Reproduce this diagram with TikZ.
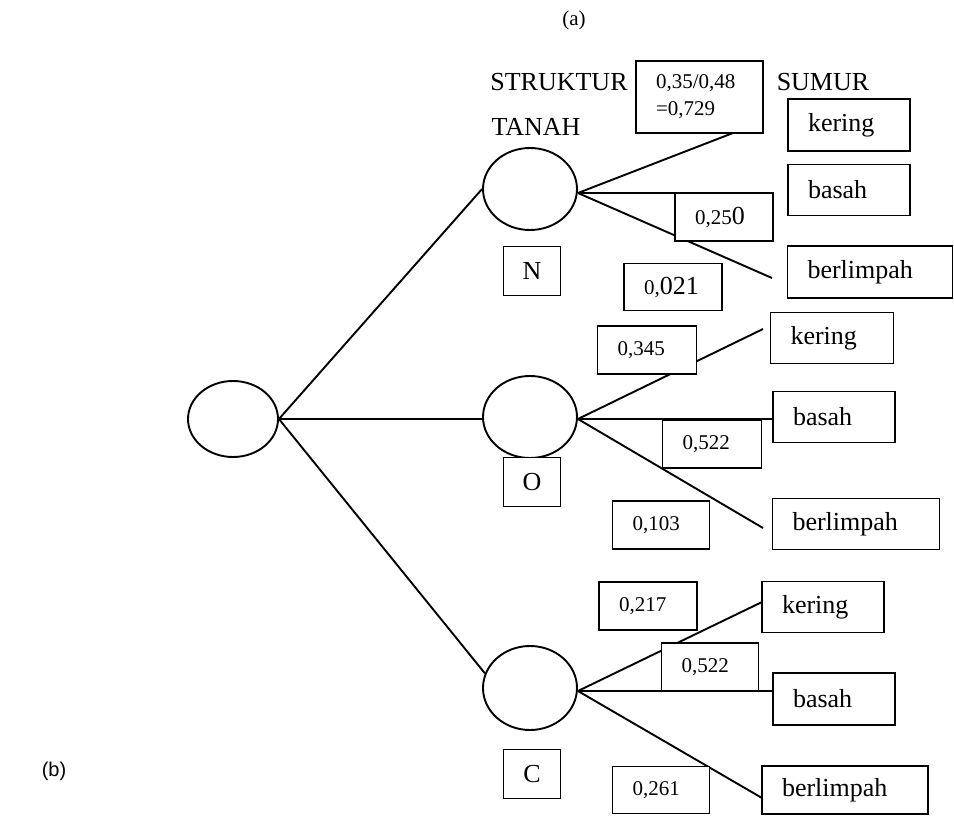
\documentclass[tikz,border=0pt]{standalone}
\usepackage{fontspec}
\setmainfont{Liberation Serif}
\setsansfont{Liberation Sans}
\usetikzlibrary{shapes.geometric}
\begin{document}
\begin{tikzpicture}[x=1pt, y=-1pt, line width=1.9pt,
  chance/.style={draw, ellipse, inner sep=0pt},
  esz/.style 2 args={minimum width=#1pt, minimum height=#2pt},
  % box of given width and height, text set flush left with a fixed indent
  bx/.style n args={3}{minimum width=#1pt, minimum height=#2pt, text width=#3pt, align=left},
  lbox/.style={draw, fill=white, rectangle, inner sep=0pt, font=\fontsize{26}{30}\selectfont},
  pbox/.style={draw, fill=white, rectangle, inner sep=0pt, font=\fontsize{21}{27}\selectfont},
  head/.style={inner sep=0pt, font=\fontsize{26}{30}\selectfont}]

\useasboundingbox (0,0) rectangle (954,816);

% titles
\node[inner sep=0pt, font=\fontsize{21}{25}\selectfont] (ta) at (574,20) {(a)};
\node[inner sep=0pt, font=\sffamily\fontsize{20}{24}\selectfont] (tb) at (54,771) {(b)};
\node[head] (hs) at (559,82) {STRUKTUR};
\node[head] (ht) at (536,127) {TANAH};
\node[head] (hw) at (823,82) {SUMUR};

% chance nodes
\node[chance, esz={90}{76}] (R) at (233,419) {};
\node[chance, esz={94}{82}] (N) at (530,189) {};
\node[chance, esz={94}{82}] (O) at (530,417) {};
\node[chance, esz={94}{84}] (C) at (530,688) {};

% branch origins on the right of each chance node
\coordinate (oN) at ([yshift=-4pt]N.east);
\coordinate (oO) at ([yshift=-2pt]O.east);
\coordinate (oC) at ([yshift=-3pt]C.east);

% free ends of the branches
\coordinate (eNk) at (733,133);
\coordinate (eNb) at (773,193);
\coordinate (eNl) at (772,278);
\coordinate (eOk) at (763,329);
\coordinate (eOb) at (773,419);
\coordinate (eOl) at (763,528);
\coordinate (eCk) at (762,602);
\coordinate (eCb) at (773,691);
\coordinate (eCl) at (762,798);

% first-level branches
\draw (R.east) -- (N.west);
\draw (R.east) -- (O.west |- R.east);
\draw (R.east) -- (C.162);

% second-level branches
\draw (oN) -- (eNk);
\draw (oN) -- (eNb);
\draw (oN) -- (eNl);
\draw (oO) -- (eOk);
\draw (oO) -- (eOb);
\draw (oO) -- (eOl);
\draw (oC) -- (eCk);
\draw (oC) -- (eCb);
\draw (oC) -- (eCl);

% soil structure labels
\node[lbox, esz={57}{49}] (sN) at (532,271) {N};
\node[lbox, esz={57}{49}] (sO) at (532,482) {O};
\node[lbox, esz={57}{49}] (sC) at (532,774) {C};

% well outcomes
\node[lbox, bx={122}{52}{82}] (kN) at (849,125) {kering};
\node[lbox, bx={122}{51}{82}] (bN) at (849,190) {basah};
\node[lbox, bx={165}{52}{125}] (lN) at (870,272) {berlimpah};
\node[lbox, bx={123}{51}{83}] (kO) at (832,338) {kering};
\node[lbox, bx={122}{51}{82}] (bO) at (834,417) {basah};
\node[lbox, bx={167}{51}{127}] (lO) at (856,524) {berlimpah};
\node[lbox, bx={122}{51}{82}] (kC) at (823,607) {kering};
\node[lbox, bx={122}{52}{82}] (bC) at (834,699) {basah};
\node[lbox, bx={166}{48}{126}] (lC) at (845,790) {berlimpah};

% probabilities
\node[pbox, bx={127}{72}{87}] (p729) at (699.5,97) {0,35/0,48\\=0,729};
\node[pbox, bx={98}{48}{58}] (p250) at (724,217) {0,25{\fontsize{26}{30}\selectfont 0}};
\node[pbox, bx={98}{47}{58}] (p021) at (673,287) {0,{\fontsize{26}{30}\selectfont 021}};
\node[pbox, bx={99}{48}{59}] (p345) at (647,350) {0,345};
\node[pbox, bx={99}{48}{59}] (p522a) at (712,444) {0,522};
\node[pbox, bx={97}{48}{57}] (p103) at (661,525) {0,103};
\node[pbox, bx={98}{48}{58}] (p217) at (648,606) {0,217};
\node[pbox, bx={97}{48}{57}] (p522b) at (710,667) {0,522};
\node[pbox, bx={97}{47}{57}] (p261) at (661,790) {0,261};

\end{tikzpicture}
\end{document}
